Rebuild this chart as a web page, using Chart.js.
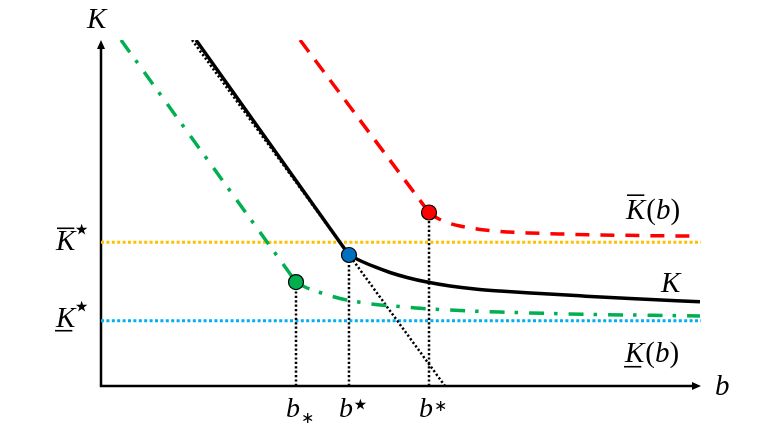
<!DOCTYPE html>
<html><head><meta charset="utf-8">
<script src="https://cdn.jsdelivr.net/npm/chart.js@4/dist/chart.umd.min.js"></script>
<style>html,body{margin:0;padding:0;background:#fff;overflow:hidden}canvas{display:block}</style>
</head><body>
<canvas id="c" width="758" height="427"></canvas>
<script>
// ---- data (arbitrary units) ----
const xRange = [0, 10];
const yRange = [0, 6];

const kLineX = [1.583, 4.133];
const kLineY = [6.0, 2.272];
const kCurveX = [4.133, 4.35, 4.567, 4.817, 5.10, 5.433, 5.817, 6.233, 6.65, 7.317, 7.983, 8.817, 9.983];
const kCurveY = [2.272, 2.159, 2.064, 1.968, 1.882, 1.803, 1.734, 1.682, 1.647, 1.604, 1.564, 1.517, 1.462];

const tangentX = [1.517, 5.733];
const tangentY = [6.0, 0.0];

const upperLineX = [3.317, 5.467];
const upperLineY = [6.0, 3.009];
const upperCurveX = [5.467, 5.6, 5.767, 5.983, 6.317, 6.65, 7.15, 7.65, 8.317, 9.15, 9.983];
const upperCurveY = [3.009, 2.913, 2.835, 2.775, 2.714, 2.679, 2.653, 2.636, 2.619, 2.607, 2.598];

const lowerLineX = [0.333, 3.25];
const lowerLineY = [6.0, 1.803];
const lowerCurveX = [3.25, 3.4, 3.65, 3.983, 4.317, 4.65, 4.983, 5.317, 5.65, 5.983, 6.65, 7.483, 8.317, 9.15, 9.983];
const lowerCurveY = [1.803, 1.717, 1.621, 1.517, 1.451, 1.405, 1.379, 1.347, 1.327, 1.309, 1.283, 1.257, 1.240, 1.226, 1.214];

const kBarStar = 2.492;   // upper bound level
const kUnderStar = 1.132; // lower bound level

const markX = [3.25, 4.133, 5.467];     // b_*, b^star, b^*
const markY = [1.803, 2.272, 3.009];
const markColors = ['#00b050', '#0070c0', '#ff0000'];
const markSup = ['∗', '⋆', '∗'];
const markSupIsSub = [true, false, false];

// ---- helpers ----
const pts = (xs, ys) => xs.map((v, i) => ({x: v, y: ys[i]}));
const IT = "italic 29px 'Liberation Serif'";
const UP = "29px 'Liberation Serif'";
const ITb = "italic 28px 'Liberation Serif'";
const STAR = "30px 'DejaVu Sans'";
const AST = "16px 'DejaVu Sans'";

function lineDs(data, color, width, dash, order, smooth) {
  return {type: 'line', data, borderColor: color, borderWidth: width, borderDash: dash,
    pointRadius: 0, fill: false, order, tension: 0,
    cubicInterpolationMode: smooth ? 'monotone' : 'default', borderCapStyle: 'butt'};
}

const datasets = [];
markX.forEach((mx, i) => {
  datasets.push({type: 'scatter', data: [{x: mx, y: markY[i]}], pointRadius: 7.5, pointHoverRadius: 7.5,
    backgroundColor: markColors[i], borderColor: '#000', borderWidth: 1.2, order: 0});
});
datasets.push(lineDs(pts(kLineX, kLineY), '#000', 3.5, [], 2, false));
datasets.push(lineDs(pts(kCurveX, kCurveY), '#000', 3.5, [], 2, true));
datasets.push(lineDs(pts(upperLineX, upperLineY), '#ff0000', 3.5, [15, 10], 2, false));
datasets.push(lineDs(pts(upperCurveX, upperCurveY), '#ff0000', 3.5, [14, 11], 2, true));
datasets.push(lineDs(pts(lowerLineX, lowerLineY), '#00b050', 3.5, [15, 10, 3.5, 11], 2, false));
datasets.push(lineDs(pts(lowerCurveX, lowerCurveY), '#00b050', 3.5, [15, 10, 3.5, 11], 2, true));
datasets.push(lineDs(pts(tangentX, tangentY), '#000', 2.5, [2.2, 2.2], 4, false));
markX.forEach((mx, i) => {
  datasets.push(lineDs(pts([mx, mx], [0, markY[i]]), '#000', 2.5, [2.2, 2.2], 4, false));
});
datasets.push(lineDs(pts(xRange, [kBarStar, kBarStar]), '#ffc000', 3, [3, 2.4], 6, false));
datasets.push(lineDs(pts(xRange, [kUnderStar, kUnderStar]), '#00b0f0', 3, [3, 2.4], 6, false));

function runs(ctx, list, x, y) {
  let cx = x; const out = [];
  list.forEach(r => {
    ctx.font = r.f;
    cx += (r.dx || 0);
    ctx.fillText(r.t, cx, y + (r.dy || 0));
    const w = ctx.measureText(r.t).width;
    out.push([cx, w]);
    cx += w;
  });
  return out;
}
function hline(ctx, x1, x2, y, w) {
  ctx.save(); ctx.lineWidth = w || 1.6; ctx.strokeStyle = '#000';
  ctx.beginPath(); ctx.moveTo(x1, y); ctx.lineTo(x2, y); ctx.stroke(); ctx.restore();
}

const deco = {
  id: 'deco',
  beforeDatasetsDraw(chart) {
    const {ctx, scales: {x, y}} = chart;
    const x0 = x.getPixelForValue(xRange[0]), y0 = y.getPixelForValue(yRange[0]);
    const xe = x.getPixelForValue(xRange[1]), ye = y.getPixelForValue(yRange[1]);
    ctx.save();
    ctx.strokeStyle = '#000'; ctx.fillStyle = '#000'; ctx.lineWidth = 2.5;
    ctx.beginPath();
    ctx.moveTo(x0, y0 + 1.25); ctx.lineTo(x0, ye + 7);
    ctx.moveTo(x0 - 1.25, y0); ctx.lineTo(xe - 7, y0);
    ctx.stroke();
    ctx.beginPath(); ctx.moveTo(x0, ye); ctx.lineTo(x0 - 4, ye + 9); ctx.lineTo(x0 + 4, ye + 9); ctx.closePath(); ctx.fill();
    ctx.beginPath(); ctx.moveTo(xe, y0); ctx.lineTo(xe - 9, y0 - 4); ctx.lineTo(xe - 9, y0 + 4); ctx.closePath(); ctx.fill();
    ctx.restore();
  },
  afterDraw(chart) {
    const {ctx, scales: {x, y}} = chart;
    const x0 = x.getPixelForValue(xRange[0]), y0 = y.getPixelForValue(yRange[0]);
    const xe = x.getPixelForValue(xRange[1]), ye = y.getPixelForValue(yRange[1]);
    ctx.save();
    ctx.fillStyle = '#000'; ctx.textBaseline = 'alphabetic'; ctx.textAlign = 'left';
    // axis titles
    runs(ctx, [{t: 'K', f: IT}], x0 - 14, ye - 12);
    runs(ctx, [{t: 'b', f: IT}], xe + 14, y0 + 9);
    // K-bar-star
    const yb = y.getPixelForValue(kBarStar);
    let p = runs(ctx, [{t: 'K', f: IT}, {t: '⋆', f: STAR, dx: -3, dy: -11}], x0 - 45, yb + 8);
    hline(ctx, p[0][0] + 1, p[0][0] + p[0][1] - 1, yb - 14);
    // K-under-star
    const yu = y.getPixelForValue(kUnderStar);
    p = runs(ctx, [{t: 'K', f: IT}, {t: '⋆', f: STAR, dx: -3, dy: -11}], x0 - 45, yu + 6);
    hline(ctx, p[0][0] - 1, p[0][0] + p[0][1] - 3, yu + 10);
    // right-side labels
    const xr = x.getPixelForValue(upperCurveX[upperCurveX.length - 1]);
    const yr = y.getPixelForValue(upperCurveY[upperCurveY.length - 1]);
    p = runs(ctx, [{t: 'K', f: IT}, {t: '(', f: UP, dx: 1}, {t: 'b', f: IT}, {t: ')', f: UP}], xr - 74, yr - 17);
    hline(ctx, p[0][0] + 1, p[0][0] + p[0][1] - 1, yr - 41);
    runs(ctx, [{t: 'K', f: IT}], xr - 39, y.getPixelForValue(kCurveY[kCurveY.length - 1]) - 10);
    p = runs(ctx, [{t: 'K', f: IT}, {t: '(', f: UP, dx: 1}, {t: 'b', f: IT}, {t: ')', f: UP}], xr - 75, yu + 41);
    hline(ctx, p[0][0] - 1, p[0][0] + p[0][1] - 3, yu + 46);
    // b tick labels
    markX.forEach((mx, i) => {
      const px = x.getPixelForValue(mx);
      ctx.font = ITb;
      const w = ctx.measureText('b').width;
      const bx = px - 3 - w / 2;
      ctx.fillText('b', bx, y0 + 31);
      if (markSupIsSub[i]) { ctx.font = AST; ctx.fillText(markSup[i], bx + w + 1, y0 + 37); }
      else if (markSup[i] === '⋆') { ctx.font = STAR; ctx.fillText(markSup[i], bx + w - 2, y0 + 28); }
      else { ctx.font = AST; ctx.fillText(markSup[i], bx + w + 1, y0 + 25); }
    });
    ctx.restore();
  }
};

new Chart(document.getElementById('c'), {
  type: 'line',
  data: {datasets},
  options: {
    responsive: false, animation: false, events: [],
    layout: {padding: {left: 101, right: 57, top: 40, bottom: 41}},
    plugins: {legend: {display: false}, tooltip: {enabled: false}},
    scales: {
      x: {type: 'linear', min: xRange[0], max: xRange[1], display: false},
      y: {type: 'linear', min: yRange[0], max: yRange[1], display: false}
    }
  },
  plugins: [deco]
});
</script>
</body></html>
